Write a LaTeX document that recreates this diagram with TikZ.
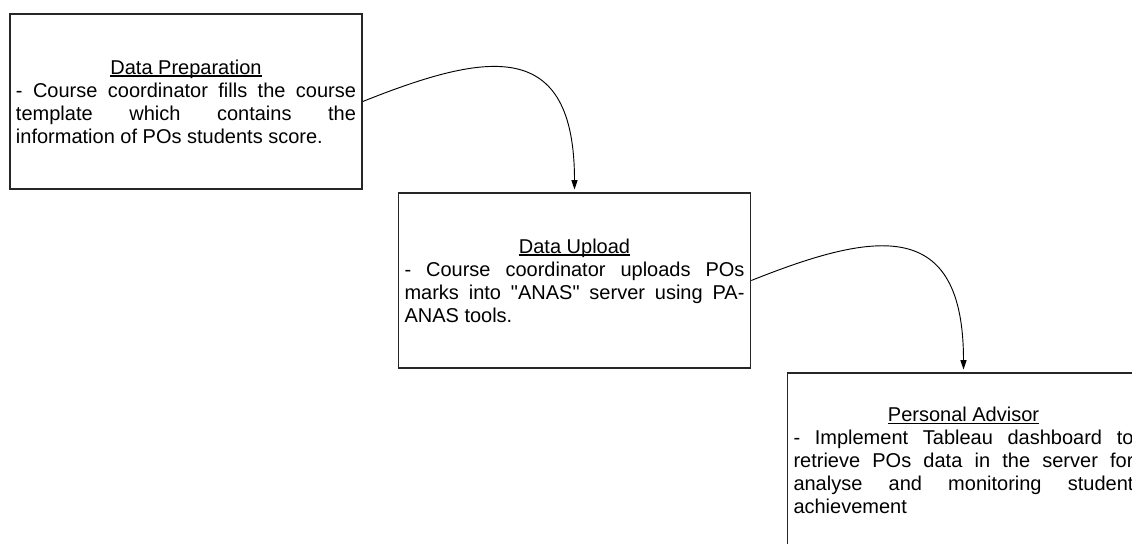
\documentclass[tikz,border=0pt]{standalone}
\usepackage{fontspec}
\setmainfont{Liberation Sans}[Ligatures=TeXOff]
\usetikzlibrary{arrows.meta}

\hyphenpenalty=10000
\tolerance=10000
\hbadness=10000
\newcommand{\stagetitle}[1]{{\centering\setbox0\hbox{#1}\rlap{\rule[-1.8pt]{\wd0}{0.9pt}}\box0\par}}

\tikzset{
  stage/.style={draw=black!85, line width=1.2pt, minimum width=264pt, minimum height=131.25pt,
    text width=255pt, align=justify, inner sep=0pt, font=\fontsize{15pt}{17.25pt}\selectfont},
  flow/.style={-{Triangle[length=7pt,width=4.5pt]}, line width=0.7pt, shorten >=2pt}
}

\begin{document}
\begin{tikzpicture}[x=0.75pt,y=-0.75pt]
\useasboundingbox (0,0) rectangle (1132,543);

\node[stage] (prep) at (186,101.5) {\stagetitle{Data Preparation}\noindent - Course coordinator fills the course\linebreak template which contains the\linebreak information of POs students score.};
\node[stage] (upload) at (574.5,280.5) {\stagetitle{Data Upload}\noindent - Course coordinator uploads POs\linebreak marks into "ANAS" server using PA-\linebreak ANAS tools.};
\node[stage] (advisor) at (963.5,460.5) {\stagetitle{Personal Advisor}\noindent - Implement Tableau dashboard to\linebreak retrieve POs data in the server for\linebreak analyse and monitoring student\linebreak achievement};

\draw[flow] (prep.east) .. controls +(125,-50) and +(0,-155) .. (upload.north);
\draw[flow] (upload.east) .. controls +(125,-50) and +(0,-155) .. (advisor.north);
\end{tikzpicture}
\end{document}
